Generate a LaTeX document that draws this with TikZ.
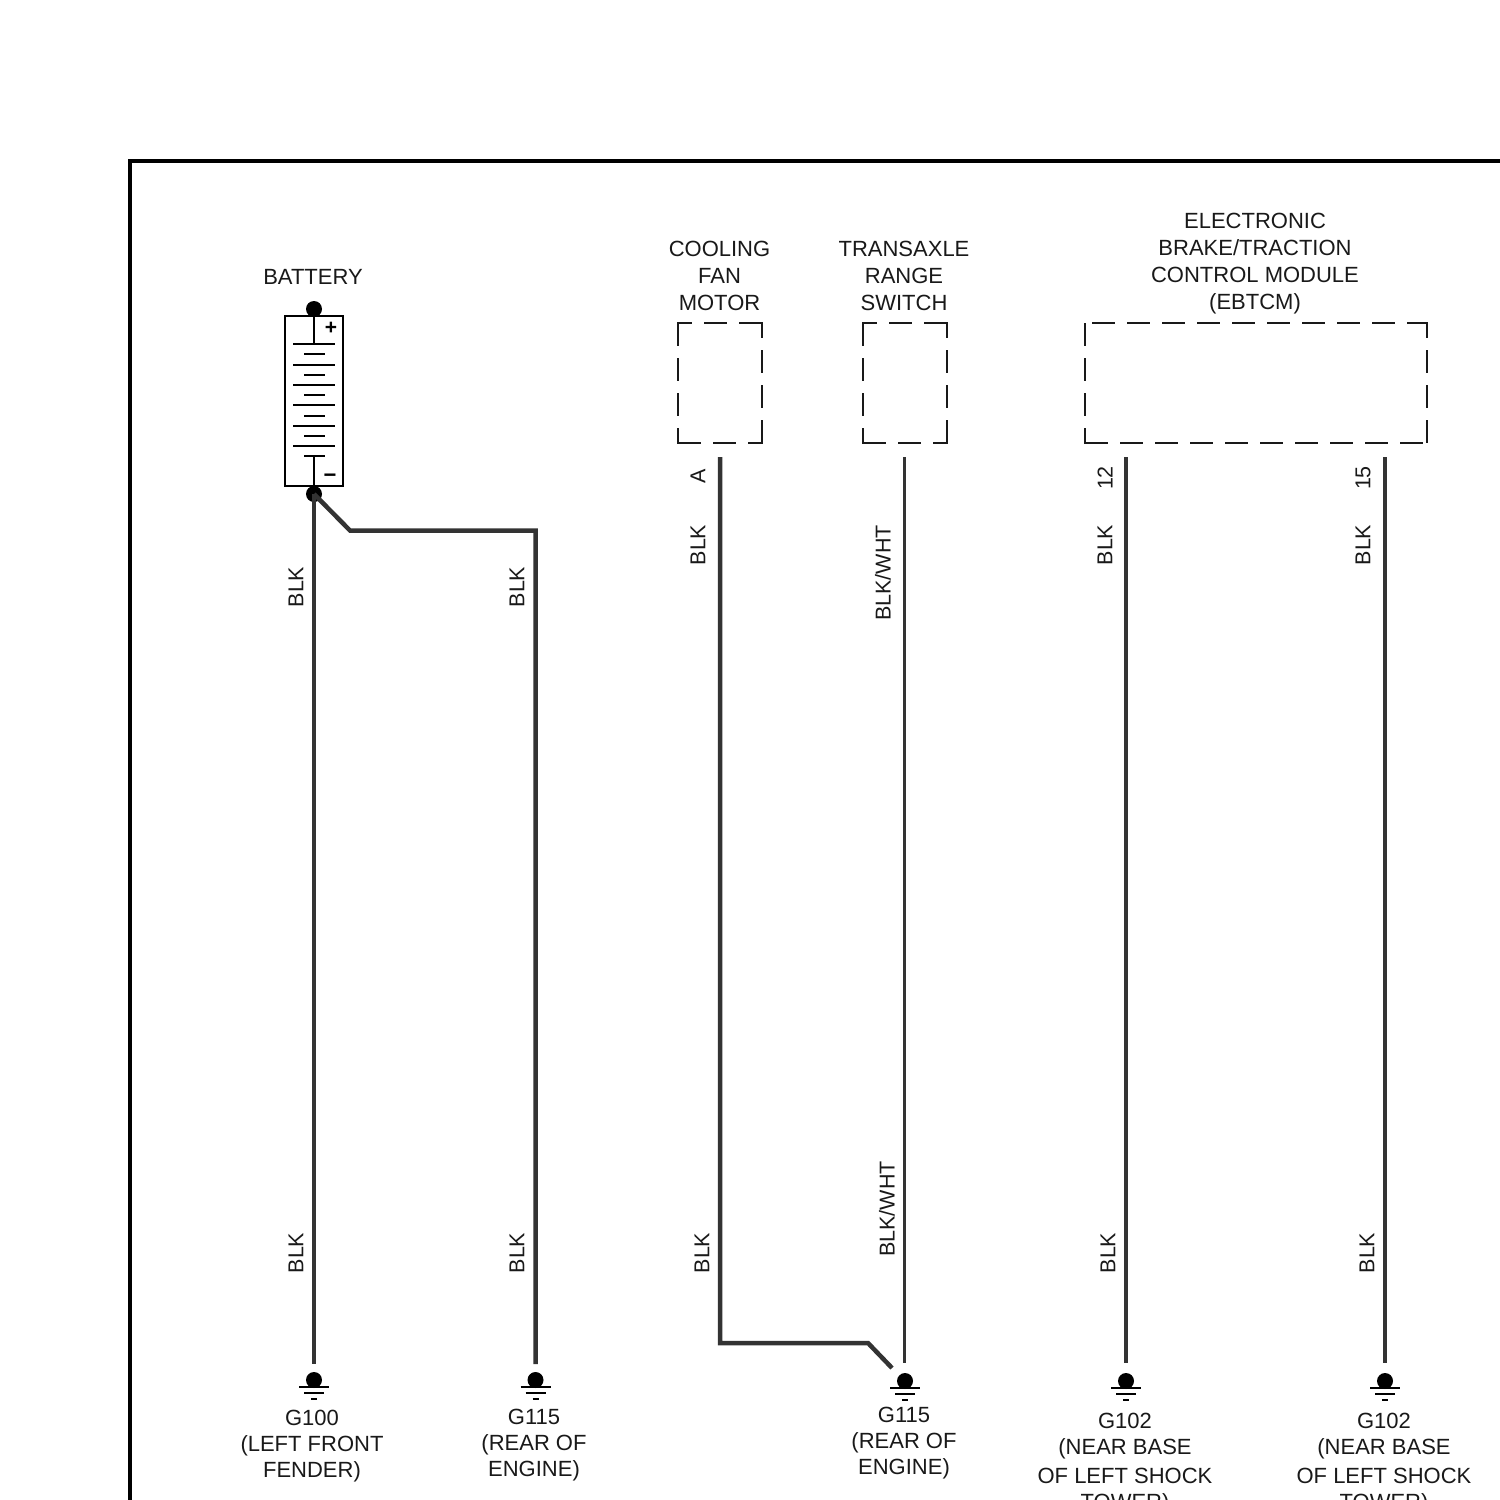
\documentclass[tikz,border=0pt]{standalone}
\usepackage{fontspec}
\setmainfont{Liberation Sans}
\tikzset{
  dot/.style={circle,fill=black,draw=none,minimum size=16pt,inner sep=0pt},
  wire/.style={draw=black!80,line width=4.5pt,line join=miter},
  thinwire/.style={draw=black!80,line width=3pt},
  boxarea/.style={draw=none,minimum height=119.5pt,inner sep=0pt,outer sep=0pt},
  dashside/.style={draw=black!90,line width=2pt,line cap=rect,dash pattern=on 21pt off 14pt,dash phase=#1},
  plate/.style={draw=black,line width=1.7pt},
  lab/.style={font=\fontsize{22}{27}\selectfont,align=center,inner sep=0pt,text=black!90},
  gndlab/.style={font=\fontsize{22}{26}\selectfont,align=center,inner sep=0pt,anchor=north,text=black!90},
  wlab/.style={font=\fontsize{21.5}{24}\selectfont,rotate=90,inner sep=0pt,text=black!90},
  gndline/.style={draw=black,line width=1.6pt}
}
\newcommand{\gnd}[3]{%
  \node[dot] (#1) at (#2,#3) {};
  \coordinate (#1a) at (#2-15,#3+7); \coordinate (#1b) at (#2+15,#3+7);
  \coordinate (#1c) at (#2-10,#3+13); \coordinate (#1d) at (#2+10,#3+13);
  \coordinate (#1e) at (#2-3,#3+19); \coordinate (#1f) at (#2+3,#3+19);
  \draw[gndline] (#1a)--(#1b) (#1c)--(#1d) (#1e)--(#1f);
}
\newcommand{\dbox}[4]{%
  \node[boxarea,minimum width=#3pt] (#1) at (#2,382.75) {};
  \draw[dashside=#4pt] (#1.north west)--(#1.north east);
  \draw[dashside=7pt] (#1.north east)--(#1.south east);
  \draw[dashside=34pt] (#1.north west)--(#1.south west);
  \draw[dashside=34pt] (#1.south west)--(#1.south east);
}
\begin{document}
\begin{tikzpicture}[x=1pt,y=-1pt]
\useasboundingbox (0,0) rectangle (1500,1500);
\clip (0,0) rectangle (1500,1500);
\fill[white] (0,0) rectangle (1500,1500);
% frame
\coordinate (fa) at (129.5,1510); \coordinate (fb) at (129.5,160.5); \coordinate (fc) at (1510,160.5);
\draw[line width=4pt,black] (fa)--(fb)--(fc);
% battery
\node[draw=black,line width=1.7pt,minimum width=58pt,minimum height=170pt,inner sep=0pt] (bat) at (314,401) {};
\node[dot] (batp) at (314,309) {};
\node[dot] (batn) at (314,494) {};
\foreach \y in {344,365,385,405,426,446} \draw[plate] (293,\y)--(335,\y);
\foreach \y in {354,375,395,416,436,456} \draw[plate] (304,\y)--(325,\y);
\coordinate (pl) at (314,344); \coordinate (nl) at (314,456);
\draw[plate] (batp.center)--(pl);
\draw[plate] (nl)--(batn.center);
\node[font=\fontsize{21}{21}\bfseries\selectfont,inner sep=0pt] (plus) at (331,328) {+};
\node[font=\fontsize{22}{22}\bfseries\selectfont,inner sep=0pt] (minus) at (330,478) {−};
\node[lab] (tbat) at (313,277) {BATTERY};
% boxes
\dbox{fan}{720}{84}{8}
\dbox{trs}{905}{84}{8}
\dbox{ebt}{1256}{342}{27}
\node[lab] (tfan) at (719.5,276) {COOLING\\FAN\\MOTOR};
\node[lab] (ttrs) at (904,276) {TRANSAXLE\\RANGE\\SWITCH};
\node[lab] (tebt) at (1255,263.5) {ELECTRONIC\\BRAKE/TRACTION\\CONTROL MODULE\\(EBTCM)};
% grounds
\gnd{ga}{314}{1380}
\gnd{gb}{535.5}{1380}
\gnd{gc}{905}{1381}
\gnd{gd}{1126}{1381}
\gnd{ge}{1385}{1381}
\node[gndlab] (la) at (312,1410) {G100\\(LEFT FRONT\\FENDER)};
\node[gndlab] (lb) at (534,1409) {G115\\(REAR OF\\ENGINE)};
\node[gndlab] (lc) at (904,1407) {G115\\(REAR OF\\ENGINE)};
\node[gndlab] (ld) at (1125,1413) {G102\\(NEAR BASE\\[3pt]OF LEFT SHOCK\\TOWER)};
\node[gndlab] (le) at (1384,1413) {G102\\(NEAR BASE\\[3pt]OF LEFT SHOCK\\TOWER)};
% wire ends
\coordinate (ea) at (314,1364); \coordinate (eb) at (535.5,1364);
\coordinate (ec) at (904.5,1363); \coordinate (ed) at (1126,1363); \coordinate (ee) at (1385,1363);
\coordinate (ef) at (892,1368);
\coordinate (sa) at (720,457); \coordinate (sb) at (904.5,457);
\coordinate (sc) at (1126,457); \coordinate (sd) at (1385,457);
\coordinate (k1) at (350,530.5); \coordinate (k2) at (535.5,530.5);
\coordinate (k3) at (720,1343); \coordinate (k4) at (868,1343);
\draw[wire] (batn.center)--(ea);
\draw[wire] (batn.center)--(k1)--(k2)--(eb);
\draw[wire] (sa)--(k3)--(k4)--(ef);
\draw[thinwire] (sb)--(ec);
\draw[wire] (sc)--(ed);
\draw[wire] (sd)--(ee);
% wire labels
\node[wlab] (w1) at (296,587) {BLK};
\node[wlab] (w2) at (296,1253) {BLK};
\node[wlab] (w3) at (517,587) {BLK};
\node[wlab] (w4) at (517,1253) {BLK};
\node[wlab] (w5) at (698,476) {A};
\node[wlab] (w6) at (698,545) {BLK};
\node[wlab] (w7) at (702,1253) {BLK};
\node[wlab] (w8) at (883,573) {BLK/WHT};
\node[wlab] (w9) at (887,1209) {BLK/WHT};
\node[wlab] (w10) at (1105,478) {12};
\node[wlab] (w11) at (1105,545) {BLK};
\node[wlab] (w12) at (1108,1253) {BLK};
\node[wlab] (w13) at (1363,478) {15};
\node[wlab] (w14) at (1363,545) {BLK};
\node[wlab] (w15) at (1367,1253) {BLK};
\end{tikzpicture}
\end{document}
